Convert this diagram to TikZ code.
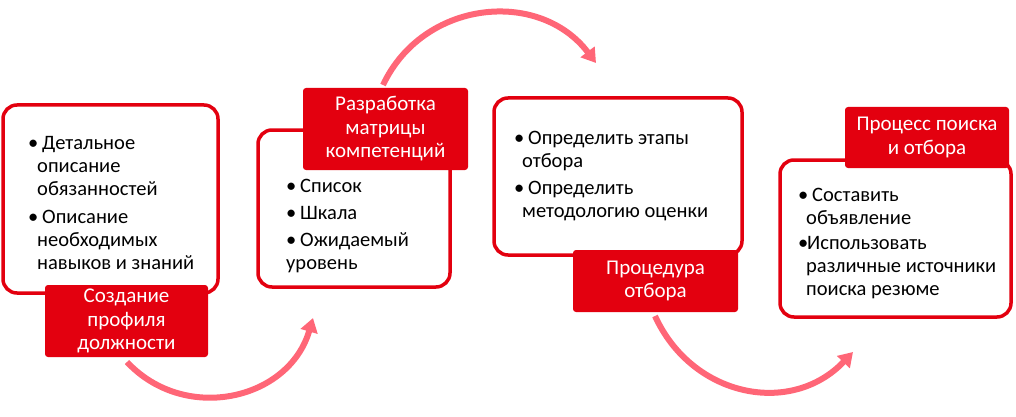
\documentclass[tikz,border=0pt]{standalone}
\usepackage{fontspec}
\setmainfont{Carlito}
\usetikzlibrary{arrows.meta}
\definecolor{boxred}{RGB}{227,0,15}
\definecolor{arrowpink}{RGB}{255,102,119}
\newcommand{\bl}[1]{\makebox[14pt][l]{•}#1}
\newcommand{\blt}[1]{\makebox[9pt][l]{•}#1}
\newcommand{\cl}[2]{\hspace{#1}#2}
\tikzset{
  outlinebox/.style={draw=boxred, line width=3.5pt, fill=white, rounded corners=14pt, inner sep=0pt},
  labelbox/.style={fill=boxred, rounded corners=3pt, text=white, align=center, inner sep=0pt,
    font=\fontsize{21}{23.5}\selectfont},
  bodytext/.style={align=left, inner sep=0pt, anchor=base west, text=black,
    font=\fontsize{20.5}{23}\selectfont},
  flowarrow/.style={draw=arrowpink, line width=6pt, -{Triangle[length=14pt,width=17pt]}}
}
\begin{document}
\begin{tikzpicture}[x=1pt,y=-1pt]
\useasboundingbox (0,0) rectangle (1016,417);
% outline boxes
\node[outlinebox, minimum width=215pt, minimum height=188pt] (b1) at (110.5,199) {};
\node[outlinebox, minimum width=192pt, minimum height=157pt] (b2) at (354,208.5) {};
\node[outlinebox, minimum width=248pt, minimum height=157pt] (b3) at (618,176.5) {};
\node[outlinebox, minimum width=231pt, minimum height=157pt] (b4) at (895.5,238.5) {};
% labels
\node[labelbox, minimum width=163pt, minimum height=72pt] (l1) at (126.5,321) {Создание\\профиля\\должности};
\node[labelbox, minimum width=165pt, minimum height=82pt] (l2) at (385.5,129) {Разработка\\матрицы\\компетенций};
\node[labelbox, minimum width=165pt, minimum height=62pt] (l3) at (655.5,281) {Процедура\\отбора};
\node[labelbox, minimum width=164pt, minimum height=61pt] (l4) at (927,137.5) {Процесс поиска\\и отбора};
% body texts (anchored at the baseline of their last line)
\node[bodytext] (t1) at (28,269) {\bl{Детальное}\\\cl{9pt}{описание}\\\cl{9pt}{обязанностей}\\[5pt]\bl{Описание}\\\cl{9pt}{необходимых}\\\cl{9pt}{навыков и знаний}};
\node[bodytext] (t2) at (286,269) {\bl{Список}\\[3.5pt]\bl{Шкала}\\[4pt]\bl{Ожидаемый}\\уровень};
\node[bodytext] (t3) at (514,217) {\bl{Определить этапы}\\\cl{8pt}{отбора}\\[4pt]\bl{Определить}\\\cl{8pt}{методологию оценки}};
\node[bodytext] (t4) at (798,295) {\bl{Составить}\\\cl{8pt}{объявление}\\[1.5pt]\blt{Использовать}\\\cl{8pt}{различные источники}\\\cl{8pt}{поиска резюме}};
% arrows
\coordinate (a1s) at (127,362);
\coordinate (a1e) at (313,318);
\coordinate (a2s) at (383,85);
\coordinate (a2e) at (596,63);
\coordinate (a3s) at (655,316);
\coordinate (a3e) at (853,352);
\draw[flowarrow] (a1s) .. controls (185,424) and (289,400) .. (a1e);
\draw[flowarrow] (a2s) .. controls (423,0) and (539,-12) .. (a2e);
\draw[flowarrow] (a3s) .. controls (692,397) and (791,417) .. (a3e);
\end{tikzpicture}
\end{document}
